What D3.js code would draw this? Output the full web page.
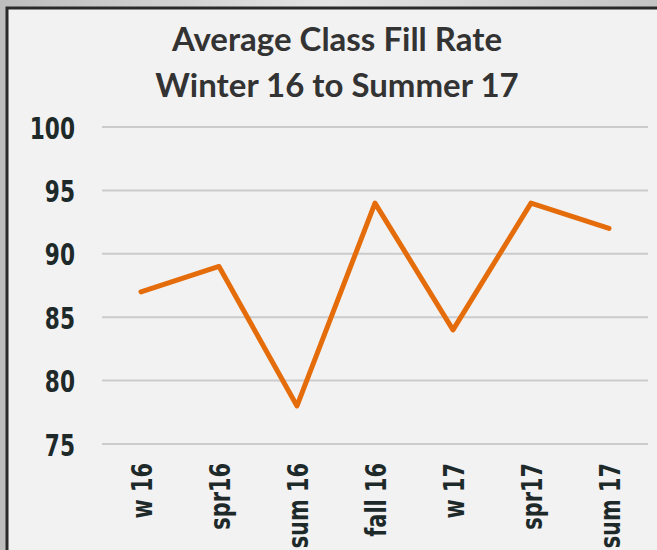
<!DOCTYPE html>
<html>
<head>
<meta charset="utf-8">
<script src="https://cdn.jsdelivr.net/npm/d3@7"></script>
<style>
  body { margin: 0; background: #d0d0d0; }
</style>
</head>
<body>
<svg id="chart"></svg>
<script>
var terms = ["w 16", "spr16", "sum 16", "fall 16", "w 17", "spr17", "sum 17"];
var fillRates = [87, 89, 78, 94, 84, 94, 92];
var yTicks = [75, 80, 85, 90, 95, 100];
var titleLines = ["Average Class Fill Rate", "Winter 16 to Summer 17"];

var width = 657, height = 550;
var plot = { left: 102, right: 648, top: 127, bottom: 444 };
var narrowFont = "'DejaVu Sans', sans-serif";

var svg = d3.select("#chart")
    .attr("width", width)
    .attr("height", height);

// metallic frame
var grad = svg.append("defs").append("linearGradient")
    .attr("id", "frame")
    .attr("x1", "0").attr("y1", "0").attr("x2", "1").attr("y2", "0");
grad.append("stop").attr("offset", "0").attr("stop-color", "#bdbdbd");
grad.append("stop").attr("offset", "0.5").attr("stop-color", "#e4e4e4");
grad.append("stop").attr("offset", "1").attr("stop-color", "#c4c4c4");

svg.append("rect")
    .attr("width", width).attr("height", height)
    .attr("fill", "url(#frame)");

svg.append("rect")
    .attr("x", 7).attr("y", 8)
    .attr("width", width).attr("height", height)
    .attr("fill", "#f2f2f2")
    .attr("stroke", "#2a2a2a")
    .attr("stroke-width", 3);

var x = d3.scalePoint()
    .domain(terms)
    .range([plot.left, plot.right])
    .padding(0.5);

var y = d3.scaleLinear()
    .domain([75, 100])
    .range([plot.bottom, plot.top]);

// gridlines
svg.append("g")
    .selectAll("line")
    .data(yTicks)
    .join("line")
    .attr("x1", plot.left)
    .attr("x2", plot.right)
    .attr("y1", function(d) { return y(d); })
    .attr("y2", function(d) { return y(d); })
    .attr("stroke", "#cbcbcb")
    .attr("stroke-width", 2);

// y axis labels (condensed bold digits)
var yAxis = svg.append("g")
    .attr("transform", "translate(75,0)")
    .call(d3.axisLeft(y).tickValues(yTicks).tickSize(0).tickPadding(0));
yAxis.select(".domain").remove();
yAxis.selectAll("text")
    .attr("fill", "#1e2a2a")
    .attr("dy", "0.36em")
    .style("font-family", narrowFont)
    .style("font-weight", "bold")
    .style("font-size", "31px")
    .attr("transform", "scale(0.7,1)");

// x axis labels, rotated
var xAxis = svg.append("g")
    .attr("transform", "translate(0," + 463 + ")")
    .call(d3.axisBottom(x).tickSize(0).tickPadding(0));
xAxis.select(".domain").remove();
xAxis.selectAll("text")
    .attr("fill", "#1e2a2a")
    .style("font-family", narrowFont)
    .style("font-weight", "bold")
    .style("font-size", "29px")
    .attr("text-anchor", "end")
    .attr("dy", "0.36em")
    .attr("transform", "rotate(-90) scale(0.72,1)")
    .attr("x", 0)
    .attr("y", 0);

// line
var line = d3.line()
    .x(function(d, i) { return x(terms[i]); })
    .y(function(d) { return y(d); });

svg.append("path")
    .datum(fillRates)
    .attr("d", line)
    .attr("fill", "none")
    .attr("stroke", "#e46c0a")
    .attr("stroke-width", 5)
    .attr("stroke-linejoin", "round")
    .attr("stroke-linecap", "round");

// title
svg.append("g")
    .selectAll("text")
    .data(titleLines)
    .join("text")
    .attr("x", 337)
    .attr("y", function(d, i) { return 51 + i * 46; })
    .attr("text-anchor", "middle")
    .attr("fill", "#333333")
    .style("font-family", "Lato, 'Open Sans', sans-serif")
    .style("font-weight", "bold")
    .style("font-size", "33px")
    .text(function(d) { return d; });
</script>
</body>
</html>
